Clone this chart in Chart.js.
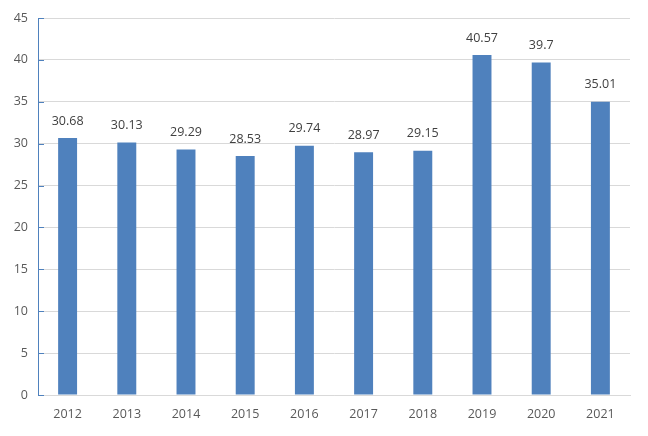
<!DOCTYPE html>
<html>
<head>
<meta charset="utf-8">
<script src="https://cdn.jsdelivr.net/npm/chart.js@4/dist/chart.umd.min.js"></script>
<style>
html,body{margin:0;padding:0;background:#fff;}
#wrap{width:648px;height:436px;position:relative;}
</style>
</head>
<body>
<div id="wrap"><canvas id="c" width="648" height="436"></canvas></div>
<script>
const categories = ["2012","2013","2014","2015","2016","2017","2018","2019","2020","2021"];
const values = [30.68, 30.13, 29.29, 28.53, 29.74, 28.97, 29.15, 40.57, 39.7, 35.01];
const valueLabels = ["30.68","30.13","29.29","28.53","29.74","28.97","29.15","40.57","39.7","35.01"];

const FONT = "'Open Sans', 'Liberation Sans', sans-serif";

const labelPlugin = {
  id: 'barLabels',
  afterDatasetsDraw(chart) {
    const ctx = chart.ctx;
    const meta = chart.getDatasetMeta(0);
    ctx.save();
    ctx.font = "12.5px " + FONT;
    ctx.fillStyle = "#404040";
    ctx.textAlign = "center";
    ctx.textBaseline = "middle";
    meta.data.forEach((bar, i) => {
      ctx.fillText(valueLabels[i], bar.x, bar.y - 17);
    });
    ctx.restore();
  }
};

const innerTicks = {
  id: 'innerTicks',
  afterDraw(chart) {
    const y = chart.scales.y;
    const ctx = chart.ctx;
    ctx.save();
    ctx.strokeStyle = "#4F81BD";
    ctx.lineWidth = 1;
    y.ticks.forEach(t => {
      const py = Math.round(y.getPixelForValue(t.value)) + 0.5;
      ctx.beginPath();
      ctx.moveTo(chart.chartArea.left, py);
      ctx.lineTo(chart.chartArea.left + 6, py);
      ctx.stroke();
    });
    ctx.restore();
  }
};

new Chart(document.getElementById('c'), {
  type: 'bar',
  data: {
    labels: categories,
    datasets: [{
      data: values,
      backgroundColor: "#4F81BD",
      categoryPercentage: 1.0,
      barPercentage: 0.32
    }]
  },
  options: {
    responsive: false,
    animation: false,
    devicePixelRatio: 1,
    layout: { padding: { top: 18, right: 18, left: 0, bottom: 0 } },
    plugins: { legend: { display: false }, tooltip: { enabled: false } },
    scales: {
      x: {
        grid: { display: false, drawTicks: false },
        border: { display: true, color: "#d9d9d9" },
        ticks: { color: "#595959", font: { family: FONT, size: 12.5 }, padding: 12, maxRotation: 0 },
        afterFit(s) { s.height = 41; }
      },
      y: {
        min: 0, max: 45,
        ticks: { stepSize: 5, color: "#595959", font: { family: FONT, size: 12.5 }, padding: 10 },
        grid: { color: "#d9d9d9", drawTicks: false },
        border: { display: true, color: "#4F81BD" },
        afterFit(s) { s.width = 38; }
      }
    }
  },
  plugins: [labelPlugin, innerTicks]
});
</script>
</body>
</html>
